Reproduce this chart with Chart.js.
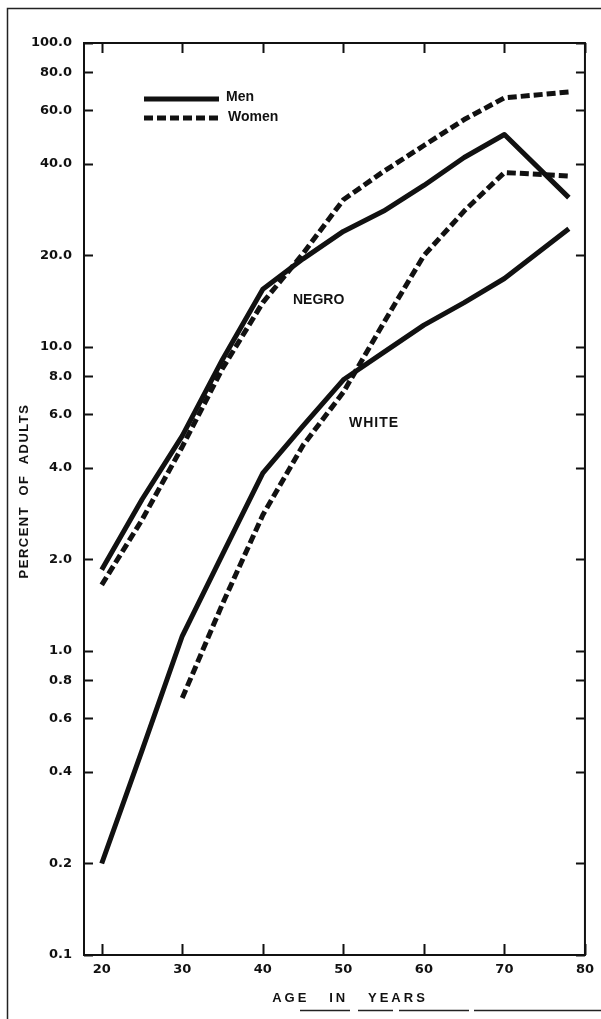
<!DOCTYPE html>
<html>
<head>
<meta charset="utf-8">
<script src="https://cdn.jsdelivr.net/npm/chart.js@4"></script>
<style>
  html, body { margin: 0; padding: 0; background: #fff; }
  #wrap { width: 601px; height: 1019px; position: relative; }
</style>
</head>
<body>
<div id="wrap"><canvas id="myChart"></canvas></div>
<script>
// ages (x) and percent of adults (y)
const ages = [20, 25, 30, 35, 40, 45, 50, 55, 60, 65, 70, 78];
const agesWhiteWomen = [30, 35, 40, 45, 50, 55, 60, 65, 70, 78];
const negroMen = [1.85, 3.15, 5.1, 9.1, 15.5, 19.5, 24, 28, 34, 42, 50, 31];
const negroWomen = [1.65, 2.7, 4.7, 8.5, 14, 20.3, 30.5, 37.8, 46, 56, 66, 69];
const whiteMen = [0.2, 0.47, 1.12, 2.08, 3.85, 5.5, 7.8, 9.6, 11.8, 14, 16.8, 24.5];
const whiteWomen = [0.7, 1.43, 2.8, 4.75, 7.1, 12, 20, 28, 37.5, 36.5];

const xTicks = [20, 30, 40, 50, 60, 70, 80];
const yTicks = [0.1, 0.2, 0.4, 0.6, 0.8, 1, 2, 4, 6, 8, 10, 20, 40, 60, 80, 100];

const ink = "#111";
const dash = [9, 4];

let toPoints = (xs, ys) => xs.map((x, i) => ({ x: x, y: ys[i] }));

let lineSet = (label, xs, ys, dashed) => ({
  label: label,
  data: toPoints(xs, ys),
  borderColor: ink,
  backgroundColor: ink,
  borderWidth: 5,
  borderDash: dashed ? dash : [],
  borderCapStyle: "butt",
  borderJoinStyle: "round",
  pointRadius: 0,
  tension: 0,
  fill: false
});

// box, inward ticks, legend, group labels and axis titles
const decorations = {
  id: "decorations",
  afterDraw(chart) {
    const ctx = chart.ctx;
    const a = chart.chartArea;
    const xs = chart.scales.x;
    const ys = chart.scales.y;
    ctx.save();

    // outer frame of the figure
    ctx.strokeStyle = "#222";
    ctx.lineWidth = 1.5;
    ctx.beginPath();
    ctx.moveTo(7.5, 1019);
    ctx.lineTo(7.5, 8.5);
    ctx.lineTo(601, 8.5);
    ctx.stroke();
    ctx.setLineDash([50, 8, 35, 6, 70, 5, 200]);
    ctx.beginPath();
    ctx.moveTo(300, 1010.5);
    ctx.lineTo(601, 1010.5);
    ctx.stroke();
    ctx.setLineDash([]);

    // plot box
    ctx.strokeStyle = ink;
    ctx.lineWidth = 2;
    ctx.strokeRect(a.left, a.top, a.right - a.left, a.bottom - a.top);

    // inward ticks
    ctx.beginPath();
    xTicks.forEach(v => {
      const px = Math.round(xs.getPixelForValue(v)) + 0.5;
      ctx.moveTo(px, a.bottom);
      ctx.lineTo(px, a.bottom - 11);
      ctx.moveTo(px, a.top);
      ctx.lineTo(px, a.top + 10);
    });
    yTicks.forEach(v => {
      const py = Math.round(ys.getPixelForValue(v)) + 0.5;
      ctx.moveTo(a.left, py);
      ctx.lineTo(a.left + 9, py);
      ctx.moveTo(a.right, py);
      ctx.lineTo(a.right - 9, py);
    });
    ctx.stroke();

    // legend
    ctx.lineWidth = 5;
    ctx.beginPath();
    ctx.moveTo(144, 99);
    ctx.lineTo(219, 99);
    ctx.stroke();
    ctx.setLineDash(dash);
    ctx.beginPath();
    ctx.moveTo(144, 118);
    ctx.lineTo(220, 118);
    ctx.stroke();
    ctx.setLineDash([]);

    ctx.fillStyle = ink;
    ctx.textBaseline = "middle";
    ctx.textAlign = "left";
    ctx.font = "bold 14px 'Liberation Sans'";
    ctx.fillText("Men", 226, 97);
    ctx.fillText("Women", 228, 117);

    // group labels, placed in data coordinates
    ctx.fillText("NEGRO", xs.getPixelForValue(43.75), ys.getPixelForValue(14.3));
    ctx.letterSpacing = "1px";
    ctx.fillText("WHITE", xs.getPixelForValue(50.7), ys.getPixelForValue(5.6));

    // axis titles
    ctx.font = "bold 13px 'Liberation Sans'";
    ctx.textAlign = "center";
    ctx.letterSpacing = "3px";
    ctx.fillText("AGE   IN   YEARS", 350, 998);
    ctx.letterSpacing = "1.5px";
    ctx.translate(24, 491);
    ctx.rotate(-Math.PI / 2);
    ctx.fillText("PERCENT  OF  ADULTS", 0, 0);
    ctx.restore();
  }
};

let ctx = document.getElementById("myChart").getContext("2d");
let chart = new Chart(ctx, {
  type: "line",
  data: {
    datasets: [
      lineSet("Negro men", ages, negroMen, false),
      lineSet("Negro women", ages, negroWomen, true),
      lineSet("White men", ages, whiteMen, false),
      lineSet("White women", agesWhiteWomen, whiteWomen, true)
    ]
  },
  options: {
    responsive: true,
    maintainAspectRatio: false,
    animation: false,
    layout: { padding: { left: 0, right: 16, top: 43, bottom: 0 } },
    plugins: {
      legend: { display: false },
      tooltip: { enabled: false }
    },
    scales: {
      x: {
        type: "linear",
        min: 17.8,
        max: 80,
        afterBuildTicks: s => { s.ticks = xTicks.map(v => ({ value: v })); },
        afterFit: s => { s.height = 64; },
        grid: { display: true, drawOnChartArea: false, drawTicks: false },
        border: { display: false },
        ticks: {
          autoSkip: false,
          maxRotation: 0,
          padding: 7,
          color: ink,
          font: { family: "DejaVu Sans", size: 13, weight: "bold" }
        }
      },
      y: {
        type: "logarithmic",
        min: 0.1,
        max: 100,
        afterBuildTicks: s => { s.ticks = yTicks.map(v => ({ value: v })); },
        afterFit: s => { s.width = 84; },
        grid: { display: true, drawOnChartArea: false, drawTicks: false },
        border: { display: false },
        ticks: {
          autoSkip: false,
          padding: 12,
          color: ink,
          font: { family: "DejaVu Sans", size: 13, weight: "bold" },
          callback: v => Number(v).toFixed(1)
        }
      }
    }
  },
  plugins: [decorations]
});
</script>
</body>
</html>
